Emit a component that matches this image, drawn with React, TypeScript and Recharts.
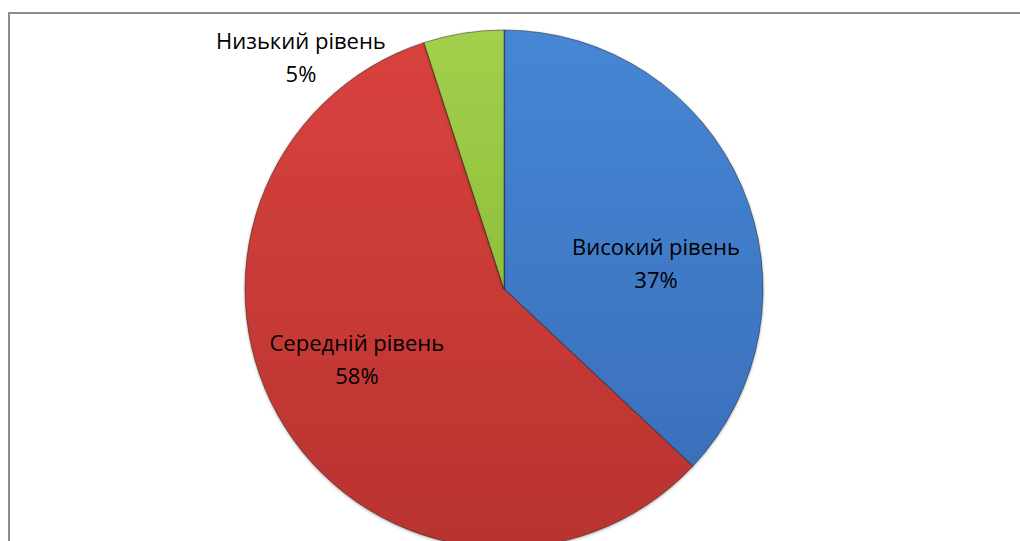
import { PieChart, Pie, Cell } from "recharts";

const LEVELS = ["Високий рівень", "Середній рівень", "Низький рівень"];
const SHARES = [37, 58, 5];

const COLORS = [
    { top: "#4686d4", bottom: "#3a70bb" },
    { top: "#d8423e", bottom: "#b8332f" },
    { top: "#a3d04c", bottom: "#8fbf3b" },
];

// where each label block sits, as a fraction of the radius from the center
const LABEL_POS = [
    { dx: 0.587, dy: -0.097 },
    { dx: -0.568, dy: 0.274 },
    { dx: -0.784, dy: -0.892 },
];

const chartData = LEVELS.map((name, i) => ({ name, value: SHARES[i] }));

const renderLabel = (props: any) => {
    const { cx, cy, outerRadius, index, name, value } = props;
    const pos = LABEL_POS[index];
    const x = cx + pos.dx * outerRadius;
    const y = cy + pos.dy * outerRadius;
    return (
        <text
            x={x}
            y={y}
            textAnchor="middle"
            fill="#000"
            fontFamily="'Open Sans', sans-serif"
            fontSize={22}
        >
            <tspan x={x} dy={-9}>{name}</tspan>
            <tspan x={x} dy={33}>{value}%</tspan>
        </text>
    );
};

export default function App() {
    return (
        <div
            style={{
                position: "absolute",
                left: 8,
                top: 12,
                width: 1012,
                height: 529,
                overflow: "hidden",
                borderTop: "2px solid #8c8c8c",
                borderLeft: "2px solid #8c8c8c",
                background: "#fff",
            }}
        >
            <PieChart width={1010} height={560}>
                <defs>
                    {COLORS.map((c, i) => (
                        <linearGradient key={i} id={`slice${i}`} x1="0" y1="0" x2="0" y2="1">
                            <stop offset="0%" stopColor={c.top} />
                            <stop offset="100%" stopColor={c.bottom} />
                        </linearGradient>
                    ))}
                    <filter id="edge" x="-5%" y="-5%" width="110%" height="110%">
                        <feDropShadow dx="0" dy="1" stdDeviation="1.5" floodColor="#000" floodOpacity="0.35" />
                    </filter>
                </defs>
                <Pie
                    data={chartData}
                    dataKey="value"
                    nameKey="name"
                    cx={489}
                    cy={270}
                    outerRadius={259}
                    startAngle={90}
                    endAngle={-270}
                    stroke="rgba(0,0,0,0.4)"
                    strokeWidth={1}
                    label={renderLabel}
                    labelLine={false}
                    isAnimationActive={false}
                    style={{ filter: "url(#edge)" }}
                >
                    {chartData.map((_, i) => (
                        <Cell key={i} fill={`url(#slice${i})`} />
                    ))}
                </Pie>
            </PieChart>
        </div>
    );
}
